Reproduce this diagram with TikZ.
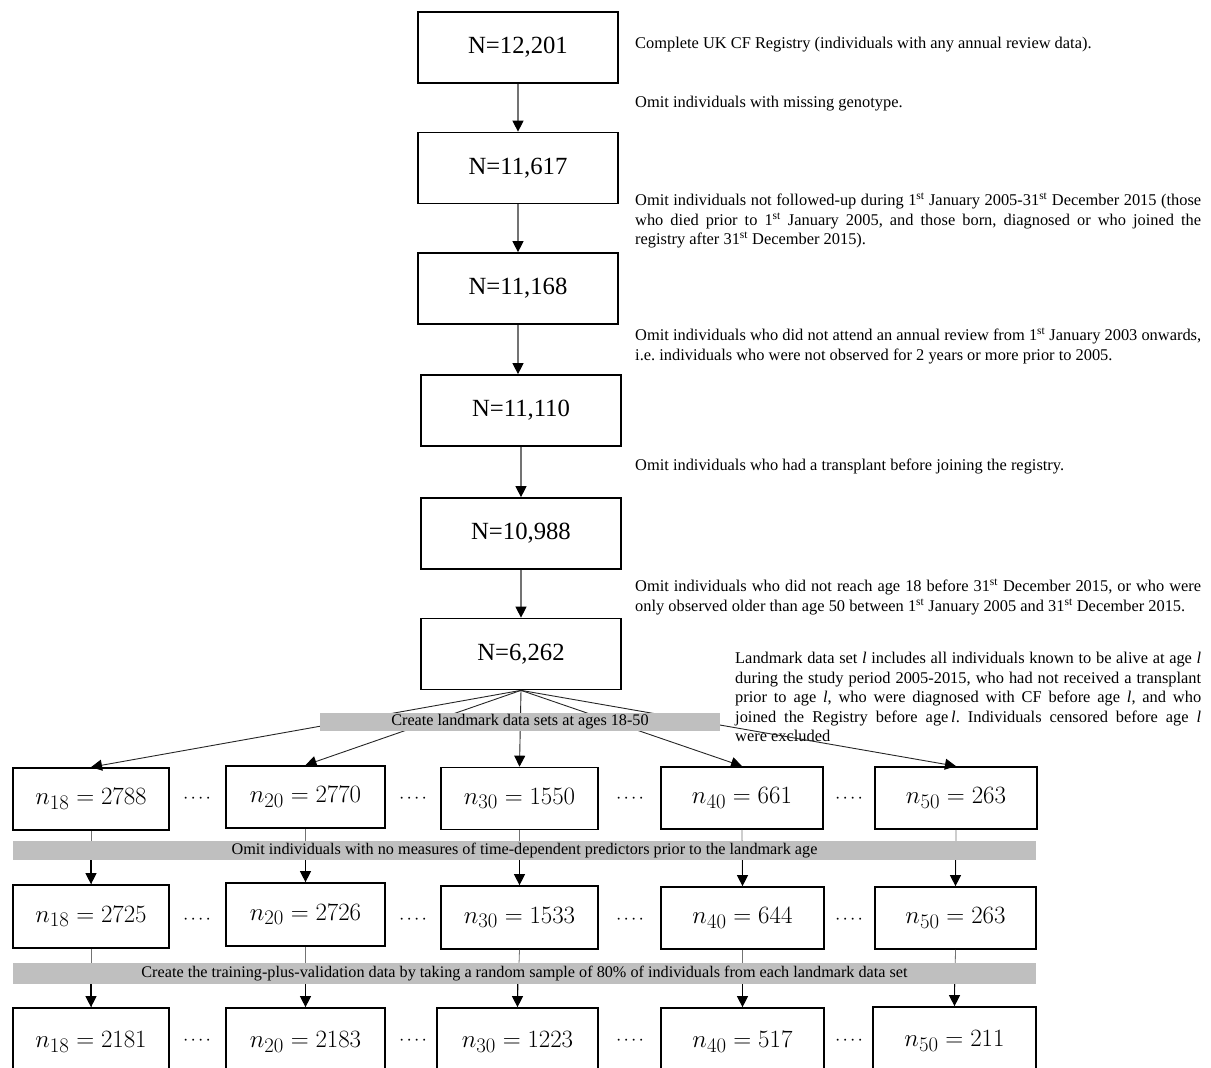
\documentclass[tikz,border=0pt]{standalone}
\usepackage{fontspec}
\setmainfont{Liberation Serif}
\usetikzlibrary{arrows.meta}
\frenchspacing
\newcommand\fourdots{\textperiodcentered\kern2.2pt\textperiodcentered\kern2.2pt\textperiodcentered\kern2.2pt\textperiodcentered}
\newcommand\jl[2]{\makebox[#1][s]{#2}}
\begin{document}
\begin{tikzpicture}[x=1pt,y=-1pt,
  topbox/.style={draw, line width=1.7pt, minimum width=200pt, minimum height=71pt, inner sep=0pt, font=\fontsize{24.7}{28}\selectfont},
  rowbox/.style={draw, line width=1.7pt, minimum height=62pt, inner sep=0pt, font=\fontsize{30}{32}\selectfont},
  bar/.style={fill=black!25, inner sep=0pt, font=\fontsize{16.2}{18}\selectfont},
  note/.style={anchor=north west, inner sep=0pt, align=left, font=\fontsize{16.4}{19.5}\selectfont},
  dotsnode/.style={inner sep=0pt, font=\fontsize{16}{18}\selectfont},
  conn/.style={draw=black!55, line width=1.1pt, -{Triangle[length=11pt,width=11pt,fill=black,color=black]}},
  fan/.style={draw=black!85, line width=0.9pt, -{Triangle[length=11pt,width=11pt,fill=black,color=black]}},
  thinline/.style={draw=black!55, line width=0.8pt},
  blk/.style={draw=black, line width=1.1pt, -{Triangle[length=11pt,width=11pt,fill=black]}}
]
\useasboundingbox (0,0) rectangle (1211,1068);
\clip (0,0) rectangle (1211,1068);

% top chain
\node[topbox] (n1) at (518,47.5) {N=12,201};
\node[topbox] (n2) at (518,168) {N=11,617};
\node[topbox] (n3) at (518,288.5) {N=11,168};
\node[topbox] (n4) at (521,410.5) {N=11,110};
\node[topbox] (n5) at (521,533.5) {N=10,988};
\node[topbox] (n6) at (521,654) {N=6,262};

\draw[conn] (n1) -- (n2);
\draw[conn] (n2) -- (n3);
\draw[conn] (n3.south) -- (n3.south |- n4.north);
\draw[conn] (n4) -- (n5);
\draw[conn] (n5) -- (n6);

% notes
\node[note] (t1) at (635,37) {Complete UK CF Registry (individuals with any annual review data).};
\node[note] (t2) at (635,96) {Omit individuals with missing genotype.};
\node[note] (t3) at (635,193) {\jl{566pt}{Omit individuals not followed-up during 1\textsuperscript{st} January 2005-31\textsuperscript{st} December 2015 (those}\\
\jl{566pt}{who died prior to 1\textsuperscript{st} January 2005, and those born, diagnosed or who joined the}\\
registry after 31\textsuperscript{st} December 2015).};
\node[note] (t4) at (635,328) {\jl{566pt}{Omit individuals who did not attend an annual review from 1\textsuperscript{st} January 2003 onwards,}\\
i.e. individuals who were not observed for 2 years or more prior to 2005.};
\node[note] (t5) at (635,459) {Omit individuals who had a transplant before joining the registry.};
\node[note] (t6) at (635,579) {\jl{566pt}{Omit individuals who did not reach age 18 before 31\textsuperscript{st} December 2015, or who were}\\
only observed older than age 50 between 1\textsuperscript{st} January 2005 and 31\textsuperscript{st} December 2015.};
\node[note] (t7) at (735,652) {\jl{466pt}{Landmark data set \textit{l} includes all individuals known to be alive at age \textit{l}}\\
\jl{466pt}{during the study period 2005-2015, who had not received a transplant}\\
\jl{466pt}{prior to age \textit{l}, who were diagnosed with CF before age \textit{l}, and who}\\
\jl{466pt}{joined the Registry before age\,\textit{l}. Individuals censored before age \textit{l}}\\
were excluded};

% row 1
\node[rowbox, minimum width=156pt] (b1) at (91,799) {$n_{18} = 2788$};
\node[rowbox, minimum width=159pt] (b2) at (305.5,797) {$n_{20} = 2770$};
\node[rowbox, minimum width=157pt] (b3) at (519.5,798.5) {$n_{30} = 1550$};
\node[rowbox, minimum width=162pt] (b4) at (742,798) {$n_{40} = 661$};
\node[rowbox, minimum width=162pt] (b5) at (956,798) {$n_{50} = 263$};

% fan
\foreach \b in {b1,b2,b3,b4,b5} \draw[fan] (n6.south) -- (\b.north);
\node[bar, minimum width=400pt, minimum height=18.5pt] (bar1) at (520,722) {Create landmark data sets at ages 18-50};

% row 2
\node[rowbox, minimum width=156pt, minimum height=63pt] (c1) at (91,916.5) {$n_{18} = 2725$};
\node[rowbox, minimum width=159pt, minimum height=63pt] (c2) at (305.5,914.5) {$n_{20} = 2726$};
\node[rowbox, minimum width=157pt, minimum height=63pt] (c3) at (519.5,917.5) {$n_{30} = 1533$};
\node[rowbox, minimum width=163pt, minimum height=62pt] (c4) at (742.5,918) {$n_{40} = 644$};
\node[rowbox, minimum width=161pt, minimum height=62pt] (c5) at (955.5,918) {$n_{50} = 263$};

\foreach \b/\c in {b1/c1,b2/c2,b3/c3,b4/c4,b5/c5} \draw[thinline] (\b.south) -- (\c.north);
\node[bar, minimum width=1023pt, minimum height=19pt] (bar2) at (524.5,850.5) {Omit individuals with no measures of time-dependent predictors prior to the landmark age};
\foreach \c in {c1,c2,c3,c4,c5} \draw[blk] (bar2.south -| \c.north) -- (\c.north);

% row 3
\node[rowbox, minimum width=156pt, minimum height=68pt] (d1) at (91,1042) {$n_{18} = 2181$};
\node[rowbox, minimum width=159pt, minimum height=68pt] (d2) at (305.5,1042) {$n_{20} = 2183$};
\node[rowbox, minimum width=161pt, minimum height=68pt] (d3) at (517.5,1042) {$n_{30} = 1223$};
\node[rowbox, minimum width=163pt, minimum height=68pt] (d4) at (742.5,1042) {$n_{40} = 517$};
\node[rowbox, minimum width=163pt, minimum height=68pt] (d5) at (954.5,1041) {$n_{50} = 211$};

\foreach \c/\d in {c1/d1,c2/d2,c3/d3,c4/d4,c5/d5} \draw[thinline] (\c.south) -- (\d.north);
\node[bar, minimum width=1023pt, minimum height=21pt] (bar3) at (524.5,973.5) {Create the training-plus-validation data by taking a random sample of 80\% of individuals from each landmark data set};
\foreach \d in {d1,d2,d3,d4,d5} \draw[blk] (bar3.south -| \d.north) -- (\d.north);

% dots
\foreach \r/\y in {1/800,2/921,3/1042} {
  \node[dotsnode] (dA\r) at (197,\y) {\fourdots};
  \node[dotsnode] (dB\r) at (413,\y) {\fourdots};
  \node[dotsnode] (dC\r) at (630,\y) {\fourdots};
  \node[dotsnode] (dD\r) at (849,\y) {\fourdots};
}
\end{tikzpicture}
\end{document}
